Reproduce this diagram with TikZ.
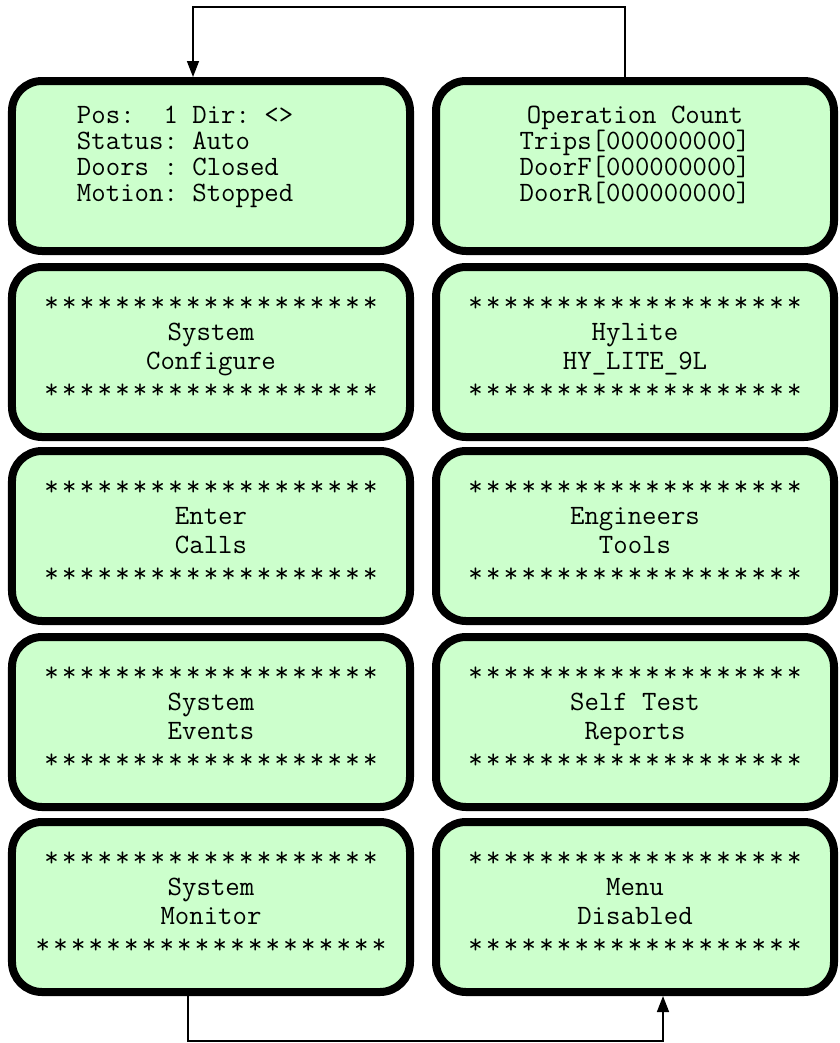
\documentclass[tikz,border=0pt]{standalone}
\usepackage{fontspec}
\usetikzlibrary{arrows.meta}

\definecolor{lcdgreen}{RGB}{204,255,204}
\newcommand{\starrow}[1]{\foreach \k in {1,...,#1}{\makebox[17.7bp]{*}}}
\newcommand{\cell}{\hphantom{0}}
\newcommand{\lcdfont}{\ttfamily\frenchspacing\fontsize{28bp}{29bp}\selectfont}
\newcommand{\readoutfont}{\ttfamily\frenchspacing\fontsize{28bp}{26bp}\selectfont}

\begin{document}
\begin{tikzpicture}[x=1bp,y=-1bp,
    screen/.style={draw, line width=8bp, rounded corners=30bp, fill=lcdgreen,
      minimum width=398bp, minimum height=170bp, outer sep=4bp, inner sep=0pt,
      align=center, font=\lcdfont},
    readout/.style={screen, text width=268bp, align=left, font=\readoutfont},
    link/.style={line width=1.6bp, -{Triangle[length=16bp,width=12bp]}}]
    \useasboundingbox (0,0) rectangle (840,1043);

    % left column
    \node[readout] (status) at (211,166)
      {Pos:\cell\cell1\cell Dir:\cell<>\\ Status:\cell Auto\\ Doors\cell:\cell Closed\\
       Motion:\cell Stopped\\[-2bp] \mbox{}};
    \node[screen] (sysconf) at (211,352)
      {\starrow{19}\\ System\\ Configure\\ \starrow{19}\\[-20bp] \mbox{}};
    \node[screen] (calls) at (211,536)
      {\starrow{19}\\ Enter\\ Calls\\ \starrow{19}\\[-20bp] \mbox{}};
    \node[screen] (events) at (211,722)
      {\starrow{19}\\ System\\ Events\\ \starrow{19}\\[-20bp] \mbox{}};
    \node[screen] (monitor) at (211,907)
      {\starrow{19}\\ System\\ Monitor\\ \starrow{20}\\[-20bp] \mbox{}};

    % right column
    \node[readout, align=center] (opcount) at (635,166)
      {Operation\cell Count\\ Trips[000000000]\\ DoorF[000000000]\\ DoorR[000000000]\\[-2bp] \mbox{}};
    \node[screen] (hylite) at (635,352)
      {\starrow{19}\\ Hylite\\ HY\_LITE\_9L\\ \starrow{19}\\[-20bp] \mbox{}};
    \node[screen] (engtools) at (635,536)
      {\starrow{19}\\ Engineers\\ Tools\\ \starrow{19}\\[-20bp] \mbox{}};
    \node[screen] (selftest) at (635,722)
      {\starrow{19}\\ Self\cell Test\\ Reports\\ \starrow{19}\\[-20bp] \mbox{}};
    \node[screen] (disabled) at (635,907)
      {\starrow{19}\\ Menu\\ Disabled\\ \starrow{19}\\[-20bp] \mbox{}};

    % wrap-around links
    \coordinate (topturn) at (0,7);
    \coordinate (botturn) at (0,1041);
    \draw[link] ([xshift=-10bp]opcount.north) -- ([xshift=-10bp]opcount.north |- topturn)
      -- ([xshift=-18bp]status.north |- topturn) -- ([xshift=-18bp]status.north);
    \draw[link] ([xshift=-23bp]monitor.south) -- ([xshift=-23bp]monitor.south |- botturn)
      -- ([xshift=28bp]disabled.south |- botturn) -- ([xshift=28bp]disabled.south);
\end{tikzpicture}
\end{document}
